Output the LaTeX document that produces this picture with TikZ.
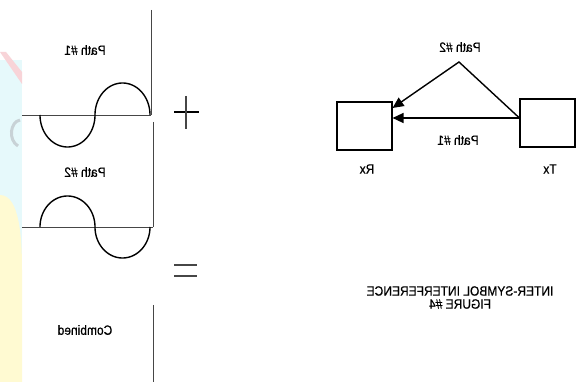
\documentclass[tikz,border=0pt]{standalone}
\usepackage{fontspec}
\usepackage{graphicx}
\setmainfont[FakeBold=0.6]{Liberation Sans}
\usetikzlibrary{arrows.meta}
\definecolor{wmcyan}{RGB}{230,249,251}
\definecolor{wmyellow}{RGB}{255,250,210}
\definecolor{wmpink}{RGB}{248,212,216}
\definecolor{wmgray}{RGB}{200,210,214}
\definecolor{linegray}{RGB}{70,70,70}
\newcommand{\mirtext}[1]{\scalebox{-1}[1.12]{#1}}
\tikzset{
  lbl/.style={font=\fontsize{12}{14}\selectfont, inner sep=0pt},
  base/.style={draw=linegray, line width=0.9pt},
  frame/.style={draw=linegray, line width=0.9pt},
  wave/.style={draw=black, line width=1.4pt},
  box/.style={draw=black, line width=1.1pt, minimum width=55pt, minimum height=48pt, inner sep=0pt},
  sig/.style={draw=black, line width=1.4pt, -{Triangle[length=11pt,width=10pt]}},
}
\begin{document}
\begin{tikzpicture}[x=1pt,y=-1pt]
\useasboundingbox (0,0) rectangle (579,382);
\fill[white] (0,0) rectangle (579,382);
% watermark strip at the left edge
\fill[wmcyan] (0,60) rectangle (22,382);
\fill[wmyellow] (0,195) .. controls (20,195) and (22,240) .. (22,270) -- (22,382) -- (0,382) -- cycle;
\fill[wmpink] (0,52) -- (6,52) -- (22,72) -- (22,84) -- cycle;
\draw[wmgray, line width=3pt] (20,120) .. controls (10,122) and (8,140) .. (18,146);
% left panels
\draw[frame] (151,10) -- (151,115);
\draw[base] (22,115) -- (151,115);
\draw[wave, domain=0:180, samples=60, smooth, variable=\t]
  plot ({67.5-27.5*cos(\t)}, {115+32*sin(\t)});
\draw[wave, domain=0:180, samples=60, smooth, variable=\t]
  plot ({122.5-27.5*cos(\t)}, {115-32*sin(\t)});
\draw[frame] (153,122) -- (153,227);
\draw[base] (22,227) -- (153,227);
\draw[wave, domain=0:180, samples=60, smooth, variable=\t]
  plot ({67.5-27.5*cos(\t)}, {227-31*sin(\t)});
\draw[wave, domain=0:180, samples=60, smooth, variable=\t]
  plot ({122.5-27.5*cos(\t)}, {227+31*sin(\t)});
\draw[frame] (153,305) -- (153,382);
\node[lbl] (p1) at (85,50) {\mirtext{Path \#1}};
\node[lbl] (p2) at (85,172) {\mirtext{Path \#2}};
\node[lbl] (comb) at (85,330) {\mirtext{Combined}};
% plus and equals
\draw[black, line width=2.6pt] (174,112) -- (199,112);
\draw[linegray, line width=1.6pt] (186,96) -- (186,129);
\draw[linegray, line width=1.5pt] (174,265) -- (197,265);
\draw[linegray, line width=1.5pt] (174,276) -- (197,276);
% right diagram
\node[box] (rx) at (364.5,126) {};
\node[box] (tx) at (547.5,123) {};
\coordinate (apex) at (459,62);
\draw[sig] ([yshift=5pt]tx.west) -- ([yshift=8pt]rx.east);
\draw[sig] ([yshift=5pt]tx.west) -- (apex) -- ([yshift=18pt]rx.east);
\node[lbl] (lp2) at (460,47) {\mirtext{Path \#2}};
\node[lbl] (lp1) at (458,140) {\mirtext{Path \#1}};
\node[lbl] (lrx) at (367,169) {\mirtext{Rx}};
\node[lbl] (ltx) at (550,169) {\mirtext{Tx}};
\node[lbl] (t1) at (460,291) {\mirtext{INTER-SYMBOL INTERFERENCE}};
\node[lbl] (t2) at (460,304) {\mirtext{FIGURE \#4}};
\end{tikzpicture}
\end{document}
